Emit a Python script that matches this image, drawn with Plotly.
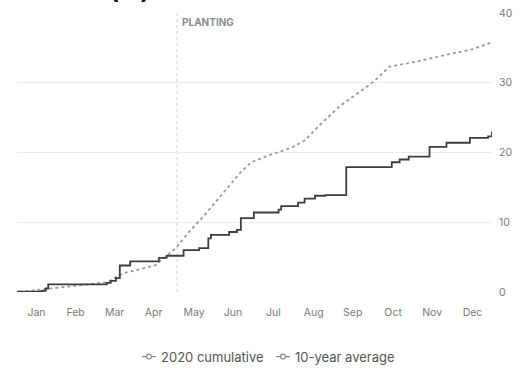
import plotly.graph_objects as go

# 2020 cumulative (step changes: date, cumulative value)
cum_dates = ["2020-01-01", "2020-01-20", "2020-01-23", "2020-01-25", "2020-03-10", "2020-03-13",
             "2020-03-17", "2020-03-20", "2020-03-28", "2020-04-19", "2020-04-25", "2020-05-08",
             "2020-05-20", "2020-05-27", "2020-05-29", "2020-06-12", "2020-06-18", "2020-06-21",
             "2020-07-01", "2020-07-20", "2020-07-22", "2020-08-04", "2020-08-09", "2020-08-17",
             "2020-08-25", "2020-09-10", "2020-10-15", "2020-10-21", "2020-10-28", "2020-11-13",
             "2020-11-26", "2020-12-14", "2020-12-28", "2020-12-31"]
cum_values = [0.05, 0.15, 0.5, 1.1, 1.3, 1.6,
              2.0, 3.8, 4.4, 4.9, 5.2, 6.0,
              6.3, 7.7, 8.2, 8.6, 8.9, 10.6,
              11.4, 11.8, 12.3, 12.8, 13.4, 13.8,
              13.9, 17.9, 18.6, 19.0, 19.4, 20.8,
              21.4, 22.1, 22.3, 23.0]

# 10-year average
avg_dates = ["2020-01-03", "2020-02-01", "2020-03-10", "2020-03-23", "2020-04-16", "2020-05-02",
             "2020-05-13", "2020-05-24", "2020-06-06", "2020-06-21", "2020-06-29", "2020-07-14",
             "2020-07-30", "2020-08-09", "2020-08-22", "2020-09-06", "2020-09-24", "2020-10-02",
             "2020-10-13", "2020-11-02", "2020-11-28", "2020-12-16", "2020-12-31"]
avg_values = [0.0, 0.6, 1.4, 2.7, 3.8, 6.3,
              8.8, 11.0, 13.9, 17.2, 18.6, 19.7,
              20.7, 21.7, 24.2, 26.8, 29.2, 30.3,
              32.3, 33.0, 34.1, 34.8, 35.8]

month_ticks = ["2020-01-16", "2020-02-15", "2020-03-16", "2020-04-15", "2020-05-16", "2020-06-15",
               "2020-07-16", "2020-08-16", "2020-09-15", "2020-10-16", "2020-11-15", "2020-12-16"]
month_labels = ["Jan", "Feb", "Mar", "Apr", "May", "Jun", "Jul", "Aug", "Sep", "Oct", "Nov", "Dec"]
y_ticks = [0, 10, 20, 30, 40]
planting_date = "2020-05-03"
series_names = ["2020 cumulative", "10-year average"]

FONT = "Inter"
W, H = 520, 368
L, R, T, B = 17, 28, 7, 76
PW, PH = W - L - R, H - T - B


def px_x(x):
    return (x - L) / PW


def px_y(y):
    return (H - B - y) / PH


fig = go.Figure()
fig.add_trace(go.Scatter(x=avg_dates, y=avg_values, mode="lines", showlegend=False,
                         name=series_names[1],
                         line=dict(color="#9a9a9a", width=1.8, dash="dot")))
fig.add_trace(go.Scatter(x=cum_dates, y=cum_values, mode="lines", showlegend=False,
                         name=series_names[0],
                         line=dict(color="#3d3d3d", width=1.8, shape="hv")))

fig.add_shape(type="line", xref="x", yref="paper", x0=planting_date, x1=planting_date,
              y0=0, y1=1, line=dict(color="#cfcfcf", width=1, dash="dot"), layer="below")
fig.add_annotation(x=planting_date, xref="x", y=px_y(16), yref="paper", text="<b>PLANTING</b>",
                   showarrow=False, xanchor="left", yanchor="middle", xshift=3,
                   font=dict(family=FONT, size=10, color="#8c8c8c"))
# clipped title at the very top
fig.add_annotation(x=px_x(130), xref="paper", y=1.0, yref="paper", text="<b>(in)</b>",
                   showarrow=False, xanchor="center", yanchor="bottom", yshift=6,
                   font=dict(family=FONT, size=24, color="#111111"))

# manual legend
legend_sym_x = [142, 276]
legend_txt_x = [159, 293]
ly = px_y(358)
for sx, tx, name in zip(legend_sym_x, legend_txt_x, series_names):
    fig.add_shape(type="line", xref="paper", yref="paper", x0=px_x(sx), x1=px_x(sx + 14),
                  y0=ly, y1=ly, line=dict(color="#8a8a8a", width=1.2))
    fig.add_shape(type="circle", xref="paper", yref="paper",
                  x0=px_x(sx + 4.5), x1=px_x(sx + 9.5), y0=px_y(360.5), y1=px_y(355.5),
                  line=dict(color="#8a8a8a", width=1.2), fillcolor="white")
    fig.add_annotation(x=px_x(tx), xref="paper", y=ly, yref="paper", text=name,
                       showarrow=False, xanchor="left", yanchor="middle",
                       font=dict(family=FONT, size=13, color="#555555"))

fig.update_layout(
    width=W, height=H,
    margin=dict(l=L, r=R, t=T, b=B),
    paper_bgcolor="white", plot_bgcolor="white",
    font=dict(family=FONT, color="#777777"),
    showlegend=False,
    xaxis=dict(type="date", range=["2020-01-01", "2020-12-31"],
               tickvals=month_ticks, ticktext=month_labels, showgrid=False,
               zeroline=False, showline=False, ticks="", ticklabelstandoff=12,
               tickfont=dict(family=FONT, size=10.5, color="#7a7a7a")),
    yaxis=dict(range=[0, 40], side="right", tickvals=y_ticks, showgrid=True,
               gridcolor="#ebebeb", gridwidth=1, zeroline=False, showline=False, ticks="",
               ticklabelstandoff=6,
               tickfont=dict(family=FONT, size=10.5, color="#7a7a7a")),
)

fig.write_html("out.html", config={"displayModeBar": False},
               post_script="document.body.style.margin='0px';")
